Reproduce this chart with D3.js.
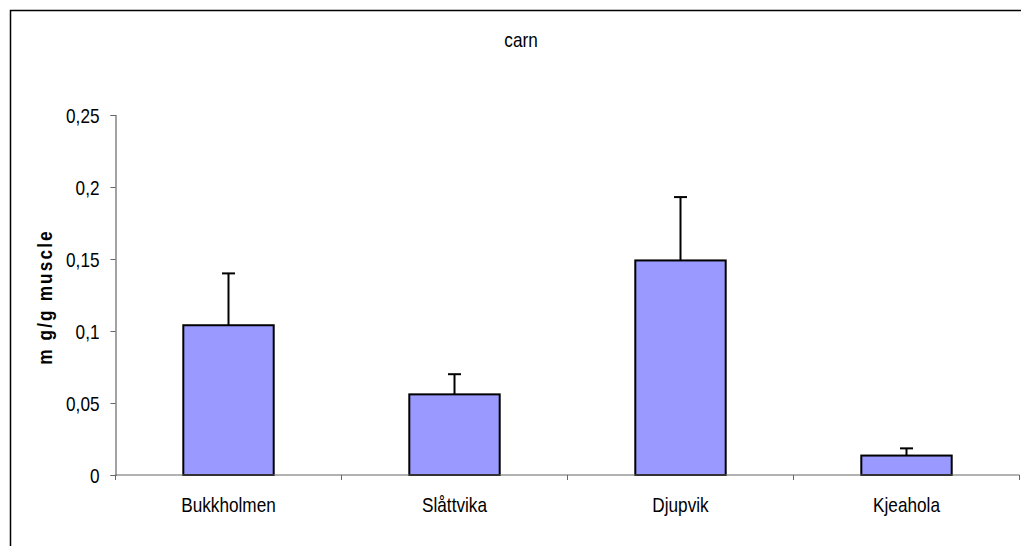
<!DOCTYPE html>
<html><head><meta charset="utf-8">
<script src="https://cdn.jsdelivr.net/npm/d3@7"></script>
<style>body{margin:0;background:#fff}svg{display:block}text{font-family:"Liberation Sans",Arial,sans-serif}</style>
</head><body>
<script>
const categories = ["Bukkholmen", "Slåttvika", "Djupvik", "Kjeahola"];
const values = [0.104, 0.056, 0.149, 0.0135];
const errors = [0.036, 0.014, 0.044, 0.005];
const yTicks = [0, 0.05, 0.1, 0.15, 0.2, 0.25];
const title = "carn";
const yLabel = "m g/g muscle";

(function () {
const W = 1021, H = 546;
const SX = 0.86, FS = 20;
const svg = d3.select("body").append("svg").attr("width", W).attr("height", H);
svg.append("rect").attr("x", 10.5).attr("y", 10.5).attr("width", W + 20).attr("height", H + 20)
  .attr("fill", "none").attr("stroke", "#000").attr("stroke-width", 1.5);

const pl = 115.5, pr = 1019.5, pt = 115, pb = 475;
const x = d3.scaleBand().domain(categories).range([pl, pr]).paddingInner(0.6).paddingOuter(0.3);
const xb = d3.scaleBand().domain(categories).range([pl, pr]);
const y = d3.scaleLinear().domain([0, 0.25]).range([pb, pt]);

svg.selectAll("rect.bar").data(categories).join("rect").attr("class", "bar")
  .attr("x", d => x(d)).attr("width", x.bandwidth())
  .attr("y", (d, i) => y(values[i])).attr("height", (d, i) => y(0) - y(values[i]))
  .attr("fill", "#9999FF").attr("stroke", "#000").attr("stroke-width", 2);

const cap = 6.5;
categories.forEach((c, i) => {
  const cx = x(c) + x.bandwidth() / 2;
  svg.append("line").attr("x1", cx).attr("x2", cx).attr("y1", y(values[i])).attr("y2", y(values[i] + errors[i]))
    .attr("stroke", "#000").attr("stroke-width", 2);
  svg.append("line").attr("x1", cx - cap).attr("x2", cx + cap).attr("y1", y(values[i] + errors[i])).attr("y2", y(values[i] + errors[i]))
    .attr("stroke", "#000").attr("stroke-width", 2);
});

const yAxis = d3.axisLeft(y).tickValues(yTicks).tickSize(5).tickPadding(0)
  .tickFormat(d => d3.format("")(d).replace(".", ","));
const gy = svg.append("g").attr("transform", `translate(${pl},0)`).call(yAxis);
gy.select(".domain").attr("stroke", "#666").attr("stroke-width", 1.2);
gy.selectAll(".tick line").attr("stroke", "#666");
gy.selectAll(".tick text").attr("x", null).attr("dy", null)
  .attr("transform", `translate(-16,7) scale(${SX},1)`)
  .attr("font-size", FS).attr("fill", "#000").attr("font-family", "Liberation Sans, Arial, sans-serif");

const gx = svg.append("g").attr("transform", `translate(0,${pb})`);
gx.append("line").attr("x1", pl).attr("x2", pr).attr("y1", 0).attr("y2", 0).attr("stroke", "#666").attr("stroke-width", 1.2);
const bounds = categories.map(c => xb(c)).concat([pr]);
gx.selectAll("line.tk").data(bounds).join("line").attr("class", "tk")
  .attr("x1", d => d).attr("x2", d => d).attr("y1", 0).attr("y2", 5).attr("stroke", "#666");
gx.selectAll("text").data(categories).join("text")
  .attr("transform", d => `translate(${xb(d) + xb.bandwidth() / 2},37) scale(${SX},1)`)
  .attr("text-anchor", "middle").attr("font-size", FS).attr("fill", "#000").text(d => d);

svg.append("text").attr("transform", `translate(521,47) scale(${SX},1)`)
  .attr("text-anchor", "middle").attr("font-size", FS).text(title);

svg.append("text").attr("transform", `translate(52,${(pt + pb) / 2 + 2}) rotate(-90) scale(${SX},1)`)
  .attr("text-anchor", "middle").attr("font-size", FS).attr("font-weight", "bold")
  .attr("letter-spacing", 2.5).text(yLabel);
})();
</script>
</body></html>
